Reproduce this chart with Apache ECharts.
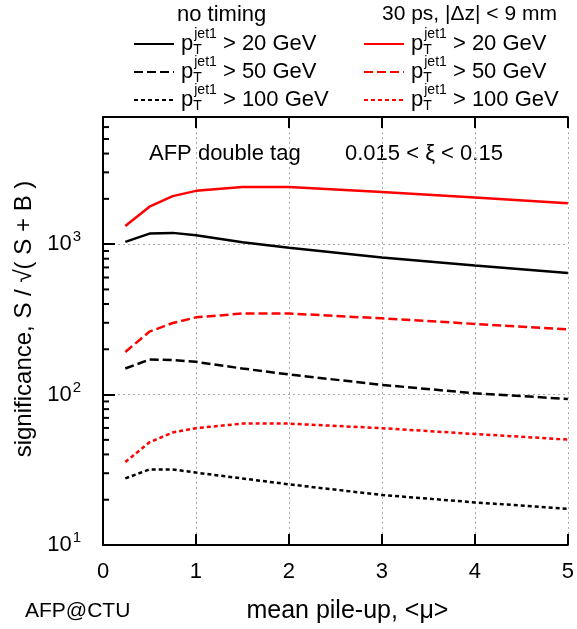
<!DOCTYPE html>
<html>
<head>
<meta charset="utf-8">
<script src="https://cdn.jsdelivr.net/npm/echarts@6/dist/echarts.min.js"></script>
<style>
  html, body { margin: 0; background: #fff; }
  #chart { width: 577px; height: 629px; }
</style>
</head>
<body>
<div id="chart"></div>
<script>
// mean pile-up values
const mu = [0.24, 0.5, 0.75, 1, 1.5, 2, 3, 4, 5];

// no timing
const noTime20 = [1036, 1175, 1188, 1146, 1030, 947, 815, 722, 643];
const noTime50 = [149, 171, 170, 165, 149, 136, 116, 102, 93.5];
const noTime100 = [27.7, 31.8, 31.8, 30.3, 27.7, 25.3, 21.5, 19.2, 17.4];

// 30 ps, |dz| < 9 mm
const timing20 = [1320, 1774, 2085, 2260, 2400, 2400, 2223, 2045, 1867];
const timing50 = [192, 262, 299, 326, 346, 346, 321, 295, 271];
const timing100 = [35.6, 48.2, 56, 59.8, 64.1, 64.1, 59.8, 54.7, 50.2];

const minorTicks = [20, 30, 40, 50, 60, 70, 80, 90,
  200, 300, 400, 500, 600, 700, 800, 900,
  2000, 3000, 4000, 5000, 6000];

const font = 'Liberation Sans';
const dashes = ['solid', [9, 4], [4, 3]];

function pairs(ys) {
  return mu.map((x, i) => [x, ys[i]]);
}

function mkLine(name, ys, color, k) {
  return {
    name: name,
    type: 'line',
    data: pairs(ys),
    showSymbol: false,
    symbol: 'none',
    animation: false,
    lineStyle: { color: color, width: 2.5, type: dashes[k] },
    itemStyle: { color: color }
  };
}

const blackNames = ['nt20', 'nt50', 'nt100'];
const redNames = ['t20', 't50', 't100'];

function legendText(name) {
  const cut = name.replace(/\D/g, '');
  return '{p|p}{sub|T}{sup|jet1}{t| > ' + cut + ' GeV}';
}

const legendRich = {
  p: { fontSize: 22, fontFamily: font, color: '#000' },
  sub: { fontSize: 14, fontFamily: font, color: '#000', width: 1, padding: [12, 0, 0, 0] },
  sup: { fontSize: 14, fontFamily: font, color: '#000', padding: [0, 0, 20, 0] },
  t: { fontSize: 22, fontFamily: font, color: '#000' }
};

function mkLegend(left, names) {
  return {
    left: left,
    top: 22,
    orient: 'vertical',
    itemWidth: 40,
    itemHeight: 12,
    itemGap: -2,
    data: names,
    selectedMode: false,
    itemStyle: { opacity: 0 },
    formatter: legendText,
    textStyle: { rich: legendRich, padding: [0, 0, 0, 2] }
  };
}

const chart = echarts.init(document.getElementById('chart'));

chart.setOption({
  backgroundColor: '#fff',
  animation: false,
  grid: { left: 103, right: 9, top: 117, bottom: 77, show: false },
  legend: [mkLegend(128, blackNames), mkLegend(358, redNames)],
  xAxis: [{
    type: 'value',
    min: 0, max: 5, interval: 1,
    position: 'bottom',
    name: 'mean pile-up, <\u03bc>',
    nameLocation: 'middle',
    nameGap: 54,
    nameTextStyle: { fontFamily: font, fontSize: 25, color: '#000', padding: [0, 0, 0, 24] },
    axisLine: { lineStyle: { color: '#000', width: 2 } },
    axisTick: { inside: true, length: 11, lineStyle: { color: '#000', width: 2 } },
    axisLabel: { fontFamily: font, fontSize: 22, color: '#000', margin: 16 },
    splitLine: { show: true, lineStyle: { color: '#aaa', type: [2, 3], width: 1 } }
  }, {
    type: 'value',
    min: 0, max: 5, interval: 1,
    position: 'top',
    axisLine: { lineStyle: { color: '#000', width: 2 } },
    axisTick: { inside: true, length: 11, lineStyle: { color: '#000', width: 2 } },
    axisLabel: { show: false },
    splitLine: { show: false }
  }],
  yAxis: {
    type: 'log',
    logBase: 10,
    min: 10, max: 7000,
    name: 'significance, S / \u221a( S + B )',
    nameLocation: 'middle',
    nameGap: 64,
    nameTextStyle: { fontFamily: font, fontSize: 24, color: '#000', padding: [0, 0, 0, 24] },
    axisLine: { show: true, lineStyle: { color: '#000', width: 2 } },
    axisTick: { inside: true, length: 12, lineStyle: { color: '#000', width: 2 } },
    axisLabel: {
      margin: 22,
      formatter: function (v) {
        const e = Math.log10(v);
        if (Math.abs(e - Math.round(e)) > 1e-6) return '';
        return '{b|10}{e|' + Math.round(e) + '}';
      },
      rich: {
        b: { fontFamily: font, fontSize: 22, color: '#000' },
        e: { fontFamily: font, fontSize: 15, color: '#000', padding: [0, 0, 14, 1] }
      }
    },
    splitLine: { show: true, lineStyle: { color: '#aaa', type: [2, 3], width: 1 } }
  },
  graphic: [
    { type: 'text', left: 177, top: 4, style: { text: 'no timing', font: '22px "Liberation Sans"', fill: '#000' } },
    { type: 'text', left: 382, top: 4, style: { text: '30 ps, |\u0394z| < 9 mm', font: '21px "Liberation Sans"', fill: '#000' } },
    { type: 'text', left: 149, top: 143, style: { text: 'AFP double tag', font: '22px "Liberation Sans"', fill: '#000' } },
    { type: 'text', left: 345, top: 143, style: { text: '0.015 < \u03be < 0.15', font: '22px "Liberation Sans"', fill: '#000' } },
    { type: 'text', left: 25, top: 601, style: { text: 'AFP@CTU', font: '21px "Liberation Sans"', fill: '#000' } }
  ],
  series: [
    mkLine('nt20', noTime20, '#000', 0),
    mkLine('nt50', noTime50, '#000', 1),
    mkLine('nt100', noTime100, '#000', 2),
    mkLine('t20', timing20, '#ff0000', 0),
    mkLine('t50', timing50, '#ff0000', 1),
    mkLine('t100', timing100, '#ff0000', 2),
    {
      // minor ticks of the log axis
      type: 'custom',
      name: 'minor',
      silent: true,
      data: minorTicks.map(v => [0, v]),
      encode: { x: 0, y: 1 },
      renderItem: function (params, api) {
        const p = api.coord([0, api.value(1)]);
        return {
          type: 'line',
          shape: { x1: p[0], y1: p[1], x2: p[0] + 6, y2: p[1] },
          style: { stroke: '#000', lineWidth: 2 }
        };
      }
    }
  ]
});
</script>
</body>
</html>
